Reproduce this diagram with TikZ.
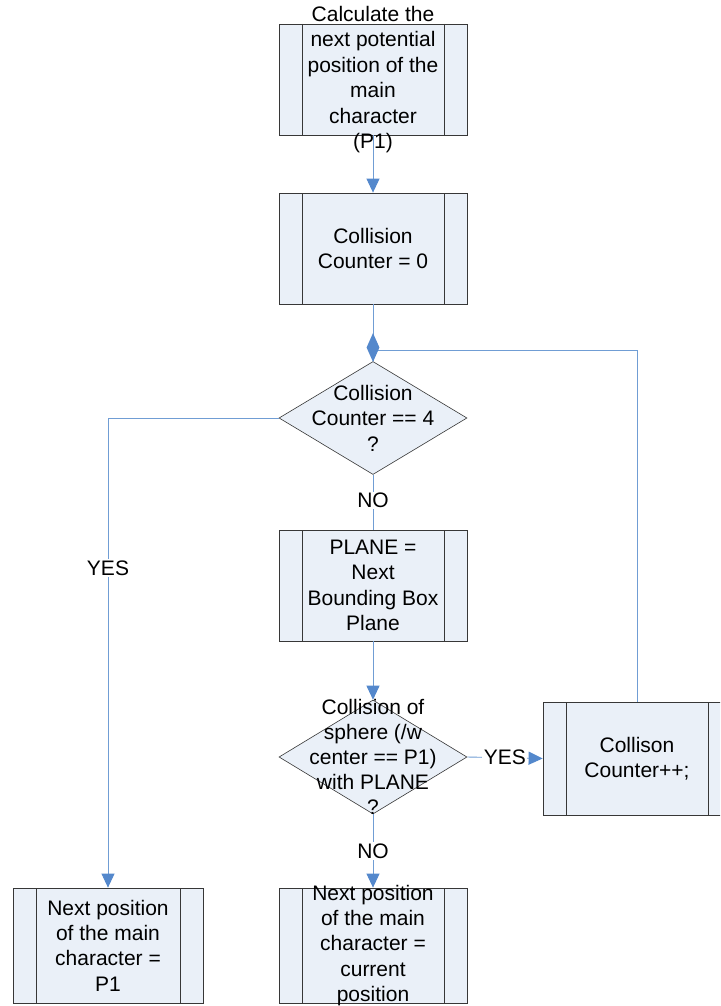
\documentclass[tikz,border=0pt]{standalone}
\usepackage{fontspec}
\setmainfont{Liberation Sans}
\usetikzlibrary{arrows.meta,shapes.geometric}
\definecolor{boxfill}{RGB}{234,240,248}
\definecolor{boxline}{RGB}{55,55,55}
\definecolor{connblue}{RGB}{112,157,212}
\definecolor{tipblue}{RGB}{84,136,204}

\tikzset{
  proc/.style={draw=boxline, line width=0.8pt, fill=boxfill,
    minimum width=188pt, minimum height=111pt, inner sep=0pt,
    path picture={\draw[boxline, line width=0.8pt]
      ([xshift=23pt]path picture bounding box.north west) -- ([xshift=23pt]path picture bounding box.south west)
      ([xshift=-23pt]path picture bounding box.north east) -- ([xshift=-23pt]path picture bounding box.south east);}},
  decision/.style={diamond, draw=boxline, line width=0.6pt, fill=boxfill,
    minimum width=188pt, minimum height=113pt, inner sep=0pt},
  txt/.style={align=center, font=\fontsize{21}{25.4}\selectfont, inner sep=0pt},
  conn/.style={draw=connblue, line width=0.9pt},
  arr/.style={conn, -{Triangle[length=14pt,width=13pt,fill=tipblue,color=tipblue]}},
  tag/.style={txt, fill=white, inner sep=1.5pt},
  merge/.style={diamond, fill=tipblue, minimum width=13pt, minimum height=29pt, inner sep=0pt},
}

\begin{document}
\begin{tikzpicture}[x=1pt, y=-1pt]
  \clip (0,0) rectangle (720,1006);
  \fill[white] (0,0) rectangle (720,1006);

  % process boxes and decisions
  \node[proc] (b1) at (373,79.5) {};
  \node[proc] (b2) at (373,248.5) {};
  \node[decision] (d1) at (373,418) {};
  \node[proc] (b3) at (373,585.5) {};
  \node[decision, minimum height=114pt] (d2) at (373,757) {};
  \node[proc, minimum height=113pt] (b4) at (637,758.5) {};
  \node[proc, minimum width=190pt, minimum height=115pt] (b5) at (108,945.5) {};
  \node[proc, minimum height=115pt] (b6) at (373,945.5) {};

  % connectors
  \draw[arr] (b1.south) -- (b2.north);
  \draw[conn] (b2.south) -- (d1.north);
  \draw[arr] (d1.west) -| node[tag, pos=0.66] (yes1) {YES} (b5.north);
  \draw[conn] (d1.south) -- node[tag, pos=0.47] (no1) {NO} (b3.north);
  \draw[arr] (b3.south) -- (d2.north);
  \draw[arr] (d2.east) -- node[tag, pos=0.5] (yes2) {YES} (b4.west);
  \draw[arr] (d2.south) -- node[tag, pos=0.5] (no2) {NO} (b6.north);
  % loop back to the junction above the first test
  \coordinate (mj) at (373,350);
  \draw[conn] (b4.north) |- (mj);
  \node[merge] (m) at (373,347.5) {};

  % texts
  \node[txt] (t1) at (b1.center) {Calculate the\\next potential\\position of the\\main\\character\\(P1)};
  \node[txt] (t2) at (b2.center) {Collision\\Counter = 0};
  \node[txt] (t3) at (d1.center) {Collision\\Counter == 4\\?};
  \node[txt] (t4) at (b3.center) {PLANE =\\Next\\Bounding Box\\Plane};
  \node[txt, font=\fontsize{21}{25}\selectfont] (t5) at (d2.center) {Collision of\\sphere (/w\\center == P1)\\with PLANE\\?};
  \node[txt] (t6) at (b4.center) {Collison\\Counter++;};
  \node[txt] (t7) at (b5.center) {Next position\\of the main\\character =\\P1};
  \node[txt] (t8) at (b6.center) {Next position\\of the main\\character =\\current\\position};
\end{tikzpicture}
\end{document}
